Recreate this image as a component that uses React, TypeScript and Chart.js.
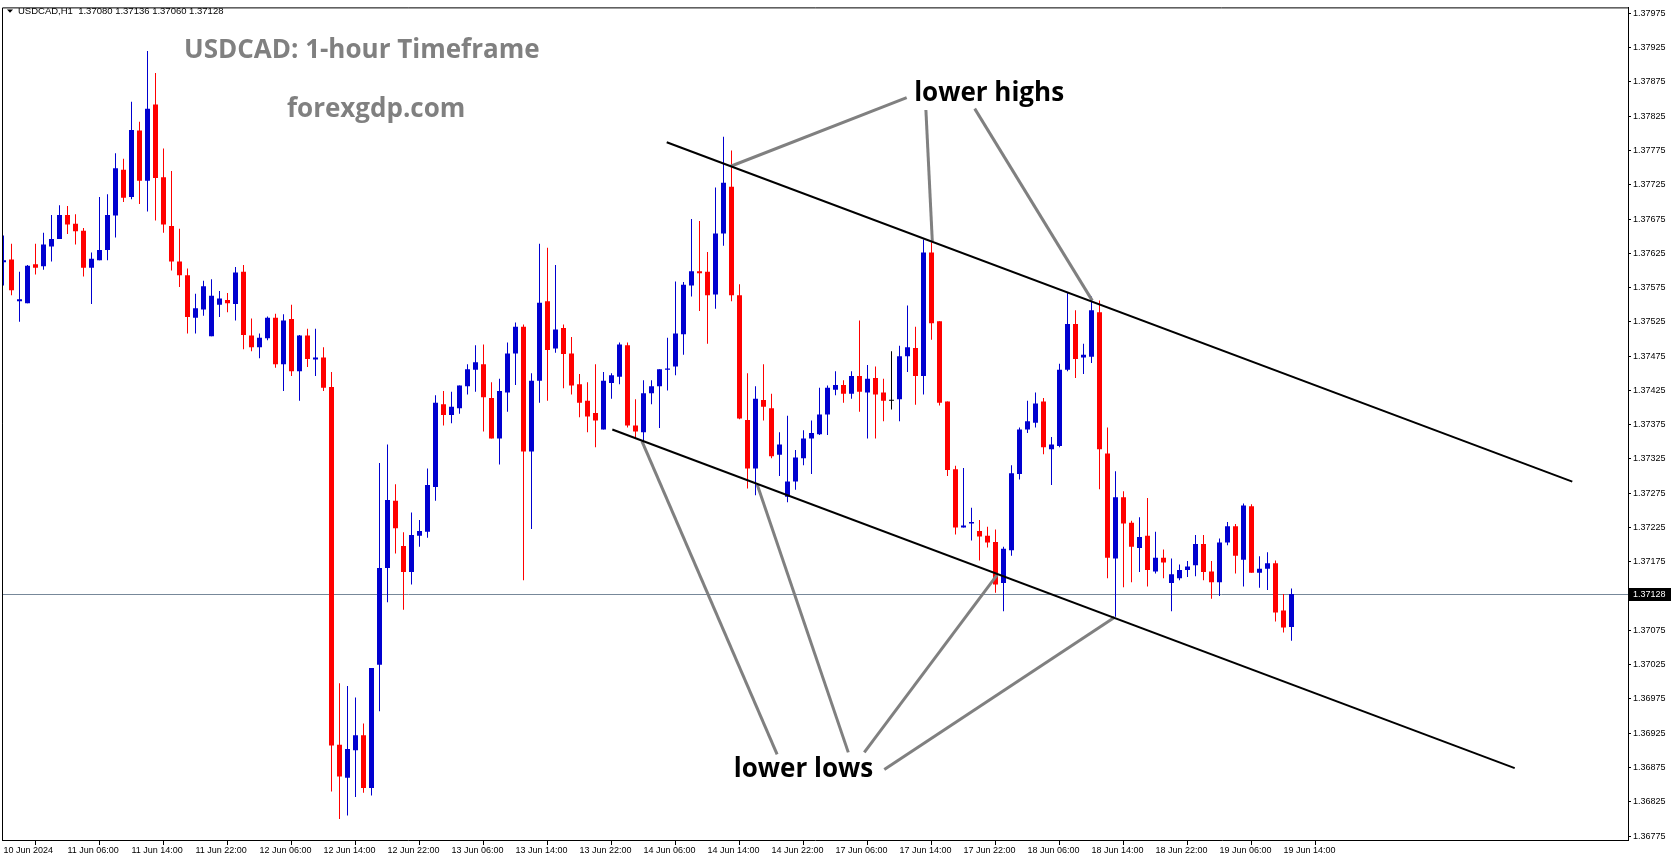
import React, { useEffect, useRef } from "react";
import { Chart, registerables } from "chart.js";

Chart.register(...registerables);

// ---------------- data ----------------
const symbolName = "USDCAD,H1";

const opens = [
  1.37612, 1.37616, 1.37555, 1.37552, 1.37609, 1.37606, 1.37635, 1.37646, 1.37681, 1.37668,
  1.37658, 1.37604, 1.37615, 1.3763, 1.3768, 1.37747, 1.37707, 1.37804, 1.37731, 1.37842,
  1.37736, 1.37665, 1.37613, 1.37593, 1.37531, 1.37543, 1.37504, 1.3755, 1.37557, 1.37551,
  1.37598, 1.37505, 1.37488, 1.37501, 1.37531, 1.37463, 1.37529, 1.37453, 1.37505, 1.3747,
  1.37473, 1.3743, 1.36908, 1.3686, 1.369, 1.36922, 1.36845, 1.37025, 1.37166, 1.37264,
  1.37198, 1.3716, 1.37213, 1.37219, 1.37284, 1.37405, 1.37389, 1.37399, 1.37431, 1.37455,
  1.37463, 1.37414, 1.37355, 1.37422, 1.37479, 1.37518, 1.37336, 1.37439, 1.37555, 1.37486,
  1.37516, 1.37479, 1.37434, 1.3741, 1.37392, 1.37368, 1.37436, 1.37445, 1.37491, 1.37374,
  1.37364, 1.37421, 1.37431, 1.37455, 1.3746, 1.37507, 1.37578, 1.37599, 1.37598, 1.37565,
  1.37654, 1.37722, 1.37564, 1.37382, 1.37311, 1.37411, 1.37399, 1.37331, 1.3727, 1.37292,
  1.37326, 1.37355, 1.37361, 1.3739, 1.37426, 1.37433, 1.3742, 1.37446, 1.37422, 1.37443,
  1.37422, 1.3741, 1.37412, 1.37475, 1.37487, 1.37446, 1.37626, 1.37526, 1.37409, 1.3731,
  1.37225, 1.37231, 1.3722, 1.37213, 1.37204, 1.37144, 1.37192, 1.37303, 1.37368, 1.37378,
  1.37409, 1.37339, 1.37344, 1.37455, 1.37522, 1.37473, 1.37474, 1.37539, 1.37333, 1.3718,
  1.37269, 1.37232, 1.37195, 1.37213, 1.37161, 1.37181, 1.37144, 1.37151, 1.37163, 1.3717,
  1.37201, 1.37161, 1.37145, 1.37203, 1.37227, 1.37178, 1.37256, 1.37159, 1.37165, 1.37173,
  1.37104, 1.3708,
];

const highs = [
  1.37651, 1.37639, 1.37598, 1.37608, 1.37639, 1.37655, 1.37681, 1.37695, 1.37694, 1.37682,
  1.37662, 1.37626, 1.37707, 1.37711, 1.37771, 1.37763, 1.37846, 1.37817, 1.3792, 1.37888,
  1.37778, 1.37745, 1.37661, 1.37603, 1.37566, 1.37585, 1.37587, 1.3757, 1.37567, 1.37605,
  1.37608, 1.3753, 1.37508, 1.37533, 1.37537, 1.37536, 1.3755, 1.37506, 1.37515, 1.37515,
  1.37488, 1.37452, 1.36998, 1.36994, 1.36977, 1.36939, 1.3702, 1.37319, 1.37346, 1.37288,
  1.37218, 1.37247, 1.37236, 1.37311, 1.37418, 1.37424, 1.37423, 1.37432, 1.37463, 1.37491,
  1.37492, 1.37437, 1.37442, 1.37495, 1.37524, 1.37521, 1.3745, 1.37639, 1.37633, 1.37608,
  1.37521, 1.37503, 1.37449, 1.37437, 1.37463, 1.37452, 1.3745, 1.37495, 1.37495, 1.37412,
  1.3744, 1.3744, 1.37456, 1.37502, 1.37584, 1.37583, 1.37675, 1.37672, 1.37627, 1.37721,
  1.37795, 1.37775, 1.3758, 1.3745, 1.37431, 1.37463, 1.3742, 1.37364, 1.37388, 1.37338,
  1.37367, 1.37381, 1.37429, 1.37432, 1.37453, 1.3744, 1.37453, 1.37527, 1.37462, 1.3746,
  1.37442, 1.37482, 1.3749, 1.37549, 1.37518, 1.37645, 1.37641, 1.37526, 1.37409, 1.37315,
  1.37312, 1.37254, 1.37236, 1.37226, 1.37222, 1.37197, 1.37316, 1.37371, 1.3741, 1.37422,
  1.37414, 1.37357, 1.37464, 1.37567, 1.37542, 1.37493, 1.37562, 1.37556, 1.37371, 1.37307,
  1.37278, 1.37235, 1.3724, 1.37268, 1.37219, 1.37193, 1.3718, 1.37171, 1.37176, 1.37214,
  1.37214, 1.37176, 1.37209, 1.37233, 1.3723, 1.3726, 1.37259, 1.37183, 1.37189, 1.37177,
  1.37128, 1.37136,
];

const lows = [
  1.37578, 1.37564, 1.37525, 1.37552, 1.37594, 1.37601, 1.37613, 1.37646, 1.37653, 1.37638,
  1.37591, 1.37551, 1.37615, 1.37615, 1.37648, 1.377, 1.37704, 1.37697, 1.37686, 1.37673,
  1.37655, 1.376, 1.37576, 1.37508, 1.37508, 1.37534, 1.37504, 1.37532, 1.37539, 1.37527,
  1.37485, 1.37482, 1.37472, 1.37498, 1.37458, 1.37424, 1.37446, 1.3741, 1.37459, 1.37446,
  1.37424, 1.3684, 1.368, 1.36805, 1.36832, 1.36838, 1.36834, 1.36957, 1.37116, 1.37187,
  1.37105, 1.37142, 1.37197, 1.3721, 1.37264, 1.37374, 1.37377, 1.37391, 1.37419, 1.37423,
  1.37365, 1.37355, 1.37317, 1.37394, 1.37433, 1.37148, 1.37223, 1.37407, 1.3741, 1.3748,
  1.37428, 1.37419, 1.37386, 1.37364, 1.37342, 1.37368, 1.37413, 1.37434, 1.37371, 1.37355,
  1.37351, 1.37405, 1.3737, 1.37425, 1.37447, 1.37477, 1.37562, 1.37541, 1.37493, 1.37544,
  1.37636, 1.37555, 1.37383, 1.37282, 1.37272, 1.37381, 1.37326, 1.373, 1.37262, 1.3728,
  1.37316, 1.37303, 1.3736, 1.3736, 1.37418, 1.37407, 1.37413, 1.37394, 1.37355, 1.37355,
  1.3738, 1.37397, 1.3738, 1.37452, 1.37404, 1.37419, 1.37499, 1.37403, 1.373, 1.37215,
  1.37225, 1.37206, 1.37177, 1.37196, 1.3713, 1.37103, 1.37184, 1.37295, 1.37363, 1.37371,
  1.37332, 1.37287, 1.37342, 1.37453, 1.37443, 1.37449, 1.37465, 1.37281, 1.37151, 1.37095,
  1.37138, 1.37145, 1.3716, 1.37139, 1.37158, 1.37151, 1.37103, 1.37148, 1.37153, 1.37154,
  1.37148, 1.37121, 1.37125, 1.37199, 1.37158, 1.37139, 1.37159, 1.37137, 1.37134, 1.37088,
  1.37072, 1.3706,
];

const closes = [
  1.37615, 1.37571, 1.37558, 1.37607, 1.37604, 1.37638, 1.37646, 1.37681, 1.37667, 1.37657,
  1.37604, 1.37617, 1.3763, 1.37681, 1.37749, 1.37706, 1.37805, 1.37731, 1.37836, 1.37735,
  1.37667, 1.37613, 1.37593, 1.37532, 1.37545, 1.37577, 1.37563, 1.37559, 1.37552, 1.37597,
  1.37506, 1.37488, 1.37502, 1.37531, 1.37463, 1.37527, 1.37453, 1.37505, 1.37471, 1.37473,
  1.37429, 1.36907, 1.36862, 1.36902, 1.36922, 1.36845, 1.3702, 1.37166, 1.37265, 1.37224,
  1.3716, 1.37214, 1.3722, 1.37287, 1.37407, 1.37389, 1.37401, 1.37432, 1.37456, 1.37466,
  1.37415, 1.37355, 1.37424, 1.37479, 1.37518, 1.37336, 1.37439, 1.37553, 1.37484, 1.37514,
  1.37478, 1.37432, 1.37407, 1.37387, 1.37381, 1.37439, 1.37447, 1.37492, 1.37374, 1.37365,
  1.37421, 1.37431, 1.37456, 1.37457, 1.37508, 1.37579, 1.37599, 1.37596, 1.37564, 1.37654,
  1.37728, 1.37564, 1.37384, 1.37311, 1.37413, 1.37401, 1.37329, 1.37346, 1.37292, 1.37327,
  1.37355, 1.37363, 1.3739, 1.37429, 1.37433, 1.3742, 1.37446, 1.37423, 1.37442, 1.37419,
  1.3741, 1.3741, 1.37475, 1.37488, 1.37446, 1.37626, 1.37523, 1.37407, 1.37309, 1.37225,
  1.37228, 1.37233, 1.37212, 1.37203, 1.37142, 1.37194, 1.37304, 1.37368, 1.3738, 1.37406,
  1.37342, 1.37346, 1.37455, 1.37522, 1.37471, 1.37477, 1.37542, 1.37339, 1.37181, 1.37269,
  1.37231, 1.37197, 1.37211, 1.37163, 1.37181, 1.37174, 1.37157, 1.37163, 1.37168, 1.37201,
  1.3716, 1.37145, 1.37203, 1.37227, 1.37184, 1.37257, 1.37159, 1.37165, 1.37173, 1.37101,
  1.37079, 1.37128,
];

// one time label every `labelStep` bars, starting at bar 0
const labelStep = 8;
const timeLabels = [
  "10 Jun 2024", "11 Jun 06:00", "11 Jun 14:00", "11 Jun 22:00", "12 Jun 06:00",
  "12 Jun 14:00", "12 Jun 22:00", "13 Jun 06:00", "13 Jun 14:00", "13 Jun 22:00",
  "14 Jun 06:00", "14 Jun 14:00", "14 Jun 22:00", "17 Jun 06:00", "17 Jun 14:00",
  "17 Jun 22:00", "18 Jun 06:00", "18 Jun 14:00", "18 Jun 22:00", "19 Jun 06:00",
  "19 Jun 14:00",
];

const priceTicks = [
  1.36775, 1.36825, 1.36875, 1.36925, 1.36975, 1.37025, 1.37075, 1.37125, 1.37175,
  1.37225, 1.37275, 1.37325, 1.37375, 1.37425, 1.37475, 1.37525, 1.37575, 1.37625,
  1.37675, 1.37725, 1.37775, 1.37825, 1.37875, 1.37925, 1.37975,
];

const bidPrice = 1.37128;

// channel lines (x = bar index, y = price)
const upperChannel = [
  { x: 82.9, y: 1.37787 },
  { x: 196.1, y: 1.37292 },
];
const lowerChannel = [
  { x: 76.1, y: 1.37368 },
  { x: 188.9, y: 1.36874 },
];

// grey pointer lines for the notes
const highPointers = [
  [{ x: 90.9, y: 1.37752 }, { x: 112.9, y: 1.37852 }],
  [{ x: 116.1, y: 1.37643 }, { x: 115.3, y: 1.37834 }],
  [{ x: 136.1, y: 1.37556 }, { x: 121.4, y: 1.37836 }],
];
const lowPointers = [
  [{ x: 79.8, y: 1.37351 }, { x: 96.7, y: 1.36894 }],
  [{ x: 94.2, y: 1.37288 }, { x: 105.6, y: 1.36897 }],
  [{ x: 124.2, y: 1.37156 }, { x: 107.6, y: 1.36897 }],
  [{ x: 138.9, y: 1.37094 }, { x: 110.1, y: 1.36872 }],
];

const highsNote = { text: "lower highs", x: 123.2, y: 1.37858 };
const lowsNote = { text: "lower lows", x: 100.0, y: 1.36872 };

const titleText = "USDCAD: 1-hour Timeframe";
const siteText = "forexgdp.com";

// ---------------- styling ----------------
const W = 1673;
const H = 861;
const BULL = "#0000D0";
const BEAR = "#FF0000";
const DOJI = "#000000";
const AXIS_FONT = "Liberation Sans";

const X_MIN = -0.1875;
const X_MAX = 203.0625;
const Y_MIN = 1.367692;
const Y_MAX = 1.379837;

function candleColor(i: number) {
  if (closes[i] > opens[i]) return BULL;
  if (closes[i] < opens[i]) return BEAR;
  return DOJI;
}

const overlayPlugin = {
  id: "mtOverlay",
  beforeDatasetsDraw(chart: any) {
    const { ctx, chartArea: a, scales } = chart;
    const y = Math.round(scales.y.getPixelForValue(bidPrice)) + 0.5;
    ctx.save();
    ctx.strokeStyle = "#778899";
    ctx.lineWidth = 1;
    ctx.beginPath();
    ctx.moveTo(a.left, y);
    ctx.lineTo(a.right, y);
    ctx.stroke();
    ctx.restore();
  },
  afterDraw(chart: any) {
    const { ctx, chartArea: a, scales } = chart;
    ctx.save();
    // frame (top + left)
    ctx.strokeStyle = "#000";
    ctx.lineWidth = 1;
    ctx.beginPath();
    ctx.moveTo(a.left + 0.5, a.bottom);
    ctx.lineTo(a.left + 0.5, a.top + 0.5);
    ctx.lineTo(a.right, a.top + 0.5);
    ctx.stroke();

    // header
    ctx.fillStyle = "#000";
    ctx.beginPath();
    ctx.moveTo(7, 9.5);
    ctx.lineTo(13, 9.5);
    ctx.lineTo(10, 12.8);
    ctx.closePath();
    ctx.fill();
    const n = closes.length - 1;
    const header = `${symbolName}  ${opens[n].toFixed(5)} ${highs[n].toFixed(5)} ${lows[n].toFixed(5)} ${closes[n].toFixed(5)}`;
    ctx.font = `9.5px '${AXIS_FONT}'`;
    ctx.textBaseline = "middle";
    ctx.textAlign = "left";
    ctx.fillText(header, 18, 11.5);

    // titles
    ctx.fillStyle = "#808080";
    ctx.font = "bold 26px 'Open Sans'";
    ctx.fillText(titleText, 184, 51);
    ctx.fillText(siteText, 287, 110);

    // notes
    ctx.fillStyle = "#000";
    ctx.textAlign = "center";
    for (const note of [highsNote, lowsNote]) {
      ctx.fillText(note.text, scales.x.getPixelForValue(note.x), scales.y.getPixelForValue(note.y));
    }

    // bid label
    const yb = Math.round(scales.y.getPixelForValue(bidPrice));
    ctx.fillStyle = "#000";
    ctx.fillRect(a.right + 1, yb - 6, 42, 13);
    ctx.fillStyle = "#fff";
    ctx.font = `9px '${AXIS_FONT}'`;
    ctx.textAlign = "left";
    ctx.fillText(bidPrice.toFixed(5), a.right + 5, yb + 0.5);
    ctx.restore();
  },
};

export default function App() {
  const canvasRef = useRef<HTMLCanvasElement | null>(null);

  useEffect(() => {
    document.body.style.margin = "0";
    document.body.style.overflow = "hidden";
    const canvas = canvasRef.current;
    if (!canvas) return;

    const bodies = opens.map((o, i) => ({ x: i, y: [o, closes[i]] }));
    const wicks = lows.map((l, i) => ({ x: i, y: [l, highs[i]] }));
    const colors = opens.map((_, i) => candleColor(i));

    const lineDs = (data: any[], color: string, width: number) => ({
      type: "line" as const,
      data,
      borderColor: color,
      borderWidth: width,
      pointRadius: 0,
      fill: false,
      tension: 0,
      order: 0,
    });

    const chart = new Chart(canvas, {
      type: "bar",
      data: {
        datasets: [
          lineDs(upperChannel, "#000", 2),
          lineDs(lowerChannel, "#000", 2),
          ...highPointers.map((p) => lineDs(p, "#808080", 3)),
          ...lowPointers.map((p) => lineDs(p, "#808080", 3)),
          {
            type: "bar",
            data: bodies as any,
            backgroundColor: colors,
            barThickness: 5,
            minBarLength: 1,
            borderWidth: 0,
            grouped: false,
            inflateAmount: 0,
            order: 1,
          } as any,
          {
            type: "bar",
            data: wicks as any,
            backgroundColor: colors,
            barThickness: 1,
            borderWidth: 0,
            grouped: false,
            inflateAmount: 0,
            order: 2,
          } as any,
        ],
      },
      options: {
        responsive: false,
        animation: false,
        devicePixelRatio: 1,
        events: [],
        layout: { padding: { left: 2, top: 2, right: 0, bottom: 0 } },
        plugins: {
          legend: { display: false },
          tooltip: { enabled: false },
        },
        scales: {
          x: {
            type: "linear",
            min: X_MIN,
            max: X_MAX,
            offset: false,
            position: "bottom",
            grid: { drawOnChartArea: false, drawTicks: true, tickLength: 5, color: "#000" },
            border: { display: true, color: "#000", width: 1 },
            ticks: {
              autoSkip: false,
              maxRotation: 0,
              minRotation: 0,
              align: "start",
              padding: 0,
              color: "#000",
              font: { family: AXIS_FONT, size: 9 },
              callback: (v: any) => timeLabels[Math.round(Number(v) / labelStep)] ?? "",
            },
            afterBuildTicks: (s: any) => {
              s.ticks = timeLabels.map((_, k) => ({ value: k * labelStep }));
            },
            afterFit: (s: any) => {
              s.height = 21;
            },
          },
          y: {
            type: "linear",
            position: "right",
            min: Y_MIN,
            max: Y_MAX,
            grid: { drawOnChartArea: false, drawTicks: true, tickLength: 3, color: "#000" },
            border: { display: true, color: "#000", width: 1 },
            ticks: {
              padding: 2,
              color: "#000",
              font: { family: AXIS_FONT, size: 9 },
              callback: (v: any) => Number(v).toFixed(5),
            },
            afterBuildTicks: (s: any) => {
              s.ticks = priceTicks.map((v) => ({ value: v }));
            },
            afterFit: (s: any) => {
              s.width = 45;
            },
          },
        },
      } as any,
      plugins: [overlayPlugin],
    });

    return () => chart.destroy();
  }, []);

  return (
    <canvas
      ref={canvasRef}
      width={W}
      height={H}
      style={{ display: "block", width: W, height: H, background: "#fff" }}
    />
  );
}
